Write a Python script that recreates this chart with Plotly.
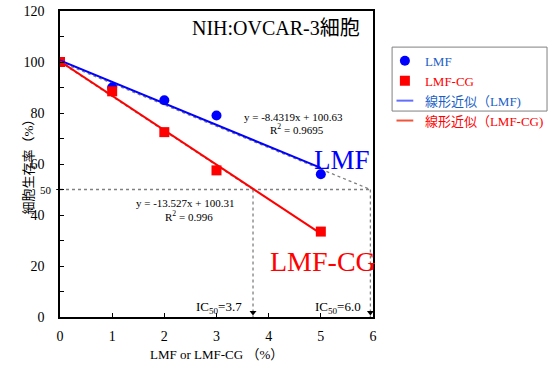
import plotly.graph_objects as go

# ---- data ----
conc = [0, 1, 2, 3, 5]
lmf = [100, 90, 85, 79, 56]
lmf_cg = [100, 88.5, 72.5, 57.5, 33.5]
slope_lmf, icpt_lmf = -8.4319, 100.63
slope_cg, icpt_cg = -13.527, 100.31
r2_lmf, r2_cg = 0.9695, 0.996
ic50_lmf, ic50_cg = 5.95, 3.7
ic50_lmf_label, ic50_cg_label = "6.0", "3.7"
yticks = [0, 20, 40, 60, 80, 100, 120]
xticks = [0, 1, 2, 3, 4, 5, 6]

SERIF = "Liberation Serif, Noto Sans CJK JP"
BLUE = "#0000ff"
RED = "#ff0000"
LBLUE = "#1a5fc8"
GRAY = "#808080"

fig = go.Figure()

xfit = [min(conc), max(conc)]
guide = dict(color=GRAY, width=1.3, dash="dot")

# dashed guide lines
fig.add_trace(go.Scatter(x=[0, ic50_lmf], y=[100, 50], mode="lines", line=guide,
                         showlegend=False, hoverinfo="skip"))
fig.add_trace(go.Scatter(x=[0, ic50_cg], y=[100, 50], mode="lines", line=guide,
                         showlegend=False, hoverinfo="skip"))
fig.add_trace(go.Scatter(x=[0, ic50_lmf], y=[50, 50], mode="lines", line=guide,
                         showlegend=False, hoverinfo="skip"))
for ic in (ic50_cg, ic50_lmf):
    fig.add_trace(go.Scatter(x=[ic, ic], y=[50, 0], mode="lines", line=guide,
                             showlegend=False, hoverinfo="skip"))
fig.add_trace(go.Scatter(x=[ic50_cg, ic50_lmf], y=[1.8, 1.8], mode="markers",
                         marker=dict(symbol="triangle-down", size=6, color="black"),
                         showlegend=False, hoverinfo="skip", cliponaxis=False))

# points
fig.add_trace(go.Scatter(x=conc, y=lmf, mode="markers", name=f'<span style="color:{LBLUE}">LMF</span>',
                         marker=dict(symbol="circle", size=10, color=BLUE)))
fig.add_trace(go.Scatter(x=conc, y=lmf_cg, mode="markers", name=f'<span style="color:{RED}">LMF-CG</span>',
                         marker=dict(symbol="square", size=10, color=RED)))
# trendlines
fig.add_trace(go.Scatter(x=xfit, y=[slope_lmf * v + icpt_lmf for v in xfit], mode="lines",
                         line=dict(color=BLUE, width=2), showlegend=False))
fig.add_trace(go.Scatter(x=xfit, y=[slope_cg * v + icpt_cg for v in xfit], mode="lines",
                         line=dict(color=RED, width=2), showlegend=False))
# legend-only entries for trendlines (short line symbol)
fig.add_trace(go.Scatter(x=[None], y=[None], mode="markers",
                         name=f'<span style="color:{LBLUE}">線形近似（LMF)</span>',
                         marker=dict(symbol="line-ew-open", size=12, line=dict(color=LBLUE, width=2))))
fig.add_trace(go.Scatter(x=[None], y=[None], mode="markers",
                         name=f'<span style="color:{RED}">線形近似（LMF-CG)</span>',
                         marker=dict(symbol="line-ew-open", size=12, line=dict(color=RED, width=2))))

def ann(x, y, text, size, color="black", **kw):
    fig.add_annotation(x=x, y=y, xref="x", yref="y", text=text, showarrow=False,
                       font=dict(family=SERIF, size=size, color=color), **kw)

ann(4.14, 113.3, "NIH:OVCAR-3細胞", 20)
ann(4.47, 78.4, f"y = {slope_lmf}x + {icpt_lmf}", 11)
ann(4.55, 73.8, f"R<sup>2</sup> = {r2_lmf}", 11)
ann(2.40, 44.7, f"y = {slope_cg}x + {icpt_cg}", 11)
ann(2.48, 39.8, f"R<sup>2</sup> = {r2_cg}", 11)
ann(5.40, 61.6, "LMF", 27, BLUE)
ann(5.04, 21.6, "LMF-CG", 28, RED)
ann(3.04, 3.8, f"IC<sub>50</sub>={ic50_cg_label}", 13)
ann(5.33, 3.8, f"IC<sub>50</sub>={ic50_lmf_label}", 13)
fig.add_annotation(x=0, y=50, xref="paper", yref="y", text="50", showarrow=False,
                   xanchor="right", xshift=-6, font=dict(family=SERIF, size=11, color="black"))
fig.add_shape(type="line", xref="paper", yref="y", x0=-0.012, x1=0, y0=50, y1=50,
              line=dict(color="black", width=1))

# axis titles
fig.add_annotation(x=-0.134, y=0.5, xref="paper", yref="paper", text="細胞生存率（%）",
                   textangle=-90, showarrow=False, font=dict(family=SERIF, size=13, color="black"))
fig.add_annotation(x=0.5, y=-0.155, xref="paper", yref="paper", text="LMF or LMF-CG （%）",
                   showarrow=False, font=dict(family=SERIF, size=13, color="black"))

# legend box
fig.add_shape(type="rect", xref="paper", yref="paper", x0=1.061, x1=1.556, y0=0.673, y1=0.882,
              line=dict(color="#808080", width=1))

fig.update_layout(
    width=556, height=382,
    margin=dict(l=60, r=183, t=11, b=65, autoexpand=False),
    paper_bgcolor="white", plot_bgcolor="white",
    font=dict(family=SERIF, size=14, color="black"),
    showlegend=True,
    legend=dict(x=1.038, y=0.886, xanchor="left", yanchor="top",
                font=dict(family=SERIF, size=13), bgcolor="rgba(0,0,0,0)",
                borderwidth=0, tracegroupgap=0, itemwidth=30),
    xaxis=dict(range=[0, 6], tickvals=xticks, ticks="inside", ticklen=4, tickcolor="black",
               showgrid=False, zeroline=False, showline=True, linecolor="black", linewidth=1.5,
               mirror=True, ticklabelstandoff=5, automargin=False),
    yaxis=dict(range=[0, 120], tickvals=yticks, ticks="inside", ticklen=4, tickcolor="black",
               minor=dict(dtick=10, ticks="inside", ticklen=4, tickcolor="black"),
               showgrid=False, zeroline=False, showline=True, linecolor="black", linewidth=1.5,
               mirror=True, ticklabelstandoff=11, automargin=False, ticklabeloverflow="allow"),
)

fig.write_html("out.html", config={"displayModeBar": False},
               post_script="document.body.style.margin='0';")
